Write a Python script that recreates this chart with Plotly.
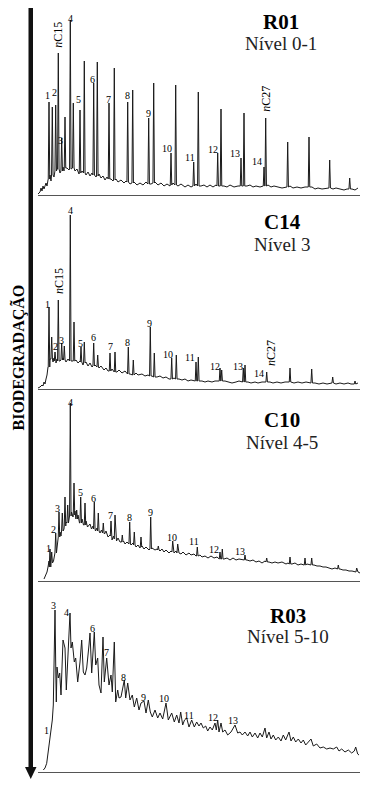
import plotly.graph_objects as go

W, H = 370, 787
OFF = 8               # default page margin of the html body
FW, FH = W - OFF, H - OFF

# ---------------- R01 (Nível 0-1) ----------------
R01_BASE_X = [38, 40, 41, 42, 43, 44, 46, 47, 48, 50, 51, 53, 54, 57, 60, 63, 64, 67, 69, 72, 75, 77, 79, 82, 86, 88, 90,
              92, 96, 99, 101, 103, 105, 107, 111, 113, 116, 118, 121, 124, 126, 130, 134, 137, 140, 143, 146, 151, 155,
              158, 161, 164, 167, 170, 173, 178, 181, 185, 188, 191, 196, 201, 204, 207, 210, 213, 216, 224, 227, 230,
              234, 238, 247, 250, 253, 256, 260, 268, 271, 274, 278, 282, 290, 293, 297, 301, 305, 312, 315, 318, 322,
              326, 333, 336, 340, 344, 347, 352, 355, 358]
R01_BASE_Y = [1, 3, 7, 4, 9, 6, 12, 9, 15, 20, 14, 24, 18, 26, 22, 28, 24, 27, 25, 27, 24, 26, 21, 24, 20, 23, 19,
              22, 18, 21, 17, 19, 15, 18, 16, 14, 16, 13, 15, 12, 14, 11, 13, 10, 12, 10, 13, 11, 13,
              10, 12, 9, 11, 9, 12, 9, 11, 8, 10, 8, 11, 9, 10, 8, 10, 8, 10, 9, 8, 10,
              8, 9, 9, 10, 8, 9, 8, 10, 8, 9, 8, 7, 9, 7, 8, 7, 8, 8, 6, 7, 6,
              7, 6, 7, 6, 5, 6, 6, 5, 7]
R01_PEAK_X = [49.0, 52.3, 55.7, 58.3, 61.7, 65.0, 70.3, 73.3, 80.0, 84.3, 93.7, 97.3, 109.0, 114.3, 127.7, 132.7,
              148.7, 153.7, 171.0, 175.7, 193.7, 198.3, 217.7, 221.0, 241.0, 244.0, 264.0, 265.7, 287.7, 309.0,
              329.7, 349.7]
R01_PEAK_TOP = [93, 88, 90, 142, 57, 78, 175, 92, 85, 134, 112, 133, 92, 127, 93, 105,
                77, 112, 42, 110, 33, 103, 42, 86, 37, 82, 28, 77, 53, 58,
                35, 17]
R01_PEAK_BASE = [16, 20, 24, 26, 24, 27, 26, 27, 22, 22, 20, 19, 16, 15, 13, 12,
                 11, 12, 10, 10, 9, 9, 9, 9, 9, 9, 9, 9, 8, 8,
                 7, 6]
R01_LABELS = ["1", "2", "<i>n</i>C15", "3", "4", "5", "6", "7", "8", "9", "10", "11", "12", "13", "14", "<i>n</i>C27"]
R01_LABEL_X = [47.7, 54.0, 57.7, 60.7, 70.7, 78.7, 92.0, 108.3, 127.3, 148.3, 166.7, 190.0, 213.3, 235.0, 256.7, 265.7]
R01_LABEL_Y = [100, 103, 160, 55, 177, 96, 116, 96, 100, 82, 47, 38, 46, 42, 34, 96]

# ---------------- C14 (Nível 3) ----------------
C14_BASE_X = [38, 40, 42, 43, 44, 45, 46, 47, 48, 50, 53, 54, 56, 57, 60, 63, 66, 68, 72, 76, 78, 80, 83, 86, 88, 90,
              92, 95, 99, 101, 104, 106, 108, 112, 117, 119, 122, 125, 130, 136, 138, 142, 145, 148, 152, 157, 160,
              163, 166, 169, 174, 179, 182, 185, 188, 191, 194, 202, 205, 208, 212, 215, 225, 228, 232, 236, 239, 248,
              251, 255, 258, 262, 270, 273, 277, 281, 285, 294, 298, 302, 306, 315, 319, 323, 327, 336, 340, 344, 348,
              351, 358]
C14_BASE_Y = [1, 2, 4, 3, 7, 5, 10, 14, 22, 30, 27, 31, 26, 30, 28, 31, 27, 30, 28, 29, 26, 28, 24, 27, 23, 26,
              22, 24, 21, 23, 19, 21, 18, 20, 17, 19, 16, 18, 15, 16, 14, 15, 13, 14, 13, 12, 13,
              11, 12, 10, 11, 10, 9, 10, 8, 9, 8, 8, 7, 8, 7, 8, 8, 7, 6, 7, 8, 7,
              6, 7, 6, 7, 7, 6, 7, 6, 7, 6, 7, 6, 7, 6, 5, 6, 5, 5, 6, 5, 6,
              5, 6]
C14_PEAK_X = [49.0, 51.7, 55.0, 58.3, 61.7, 64.3, 70.3, 74.0, 81.0, 84.3, 93.7, 97.7, 110.0, 115.0, 128.3, 133.3,
              150.3, 154.3, 171.7, 176.3, 196.0, 198.3, 220.0, 221.7, 243.3, 245.0, 266.7, 290.0, 311.7, 332.7, 355.0]
C14_PEAK_TOP = [82, 52, 37, 89, 46, 43, 174, 67, 42, 47, 46, 34, 36, 37, 42, 29,
                62, 36, 31, 34, 27, 32, 21, 19, 21, 24, 17, 21, 20, 12, 8]
C14_PEAK_BASE = [22, 30, 28, 28, 29, 29, 28, 28, 27, 26, 23, 22, 18, 17, 15, 14,
                 13, 12, 10, 10, 8, 8, 8, 8, 7, 7, 7, 7, 6, 6, 5]
C14_LABELS = ["1", "2", "<i>n</i>C15", "3", "4", "5", "6", "7", "8", "9", "10", "11", "12", "13", "14", "<i>n</i>C27"]
C14_LABEL_X = [47.7, 55.0, 59.0, 61.7, 70.7, 80.0, 93.3, 110.0, 127.7, 149.3, 168.3, 190.0, 215.0, 238.3, 259.0, 271.0]
C14_LABEL_Y = [85, 43, 108, 49, 179, 46, 52, 43, 47, 66, 35, 32, 23, 23, 16, 36]

# ---------------- C10 (Nível 4-5) ----------------
C10_BASE_X = [44, 45, 46, 47, 48, 49, 51, 52.5, 53.5, 55, 56.5, 58, 60, 61, 63, 64, 66, 67, 69, 71.5, 73, 75, 76, 78,
              79.5, 82, 83.5, 86, 87.5, 90, 91.5, 93, 95.5, 97, 100, 101.5, 104.5, 106, 108, 110, 112, 113.5, 116.5,
              118, 120, 123.5, 125, 127, 131, 133, 136, 138, 140, 142, 144, 146, 149, 152, 155, 157, 160, 162, 164,
              166, 169, 171, 174, 176, 179, 181, 183, 186, 189, 191, 194, 196, 200, 202, 205, 208, 211, 214, 217,
              224, 227, 230, 233, 236, 239, 242, 247, 250, 253, 256, 259, 262, 265, 269, 272, 275, 278, 282, 286,
              288, 292, 295, 298, 301, 304, 307, 310, 314, 317, 320, 323, 326, 329, 332, 335, 340, 343, 346, 349,
              352, 355, 358, 360]
C10_BASE_Y = [2, 4, 6, 9, 14, 20, 16, 22, 20, 30, 33, 38, 49, 45, 55, 52, 59, 57, 62, 69, 64, 70, 62, 66,
              58, 62, 56, 60, 54, 57, 52, 55, 50, 53, 48, 51, 47, 50, 44, 46, 41, 45, 40,
              43, 39, 40, 37, 39, 36, 38, 34, 36, 33, 35, 32, 34, 31, 33, 31, 32, 30, 32, 29,
              31, 28, 30, 28, 30, 28, 27, 29, 26, 28, 26, 27, 25, 26, 24, 25, 23, 25, 23, 24,
              22, 23, 21, 23, 21, 22, 21, 21, 20, 21, 19, 20, 18, 20, 19, 18, 19, 18, 19, 17,
              18, 17, 18, 16, 17, 16, 17, 16, 16, 15, 15, 14, 14, 13, 12, 13, 12, 11, 11, 10,
              10, 9, 9, 8]
C10_PEAK_X = [50.0, 51.7, 55.7, 59.0, 62.3, 65.0, 67.7, 70.3, 74.0, 76.7, 80.7, 85.0, 94.3, 98.3, 103.3, 111.0,
              115.0, 122.3, 129.7, 134.3, 141.0, 150.7, 158.3, 172.7, 177.7, 197.3, 220.0, 222.3, 245.0, 266.7,
              290.0, 305.0, 311.7, 338.3, 356.7]
C10_PEAK_TOP = [32, 29, 48, 69, 68, 84, 76, 178, 98, 71, 84, 78, 79, 68, 58, 60,
                66, 46, 59, 49, 44, 64, 35, 40, 37, 34, 29, 32, 26, 23,
                24, 23, 23, 16, 13]
C10_PEAK_BASE = [14, 18, 28, 44, 50, 55, 58, 65, 66, 62, 58, 56, 52, 50, 48, 45,
                 42, 39, 37, 36, 34, 32, 31, 29, 28, 25, 22, 22, 21, 19,
                 17, 16, 16, 12, 9]
C10_LABELS = ["1", "2", "3", "4", "5", "6", "7", "8", "9", "10", "11", "12", "13"]
C10_LABEL_X = [48.3, 53.3, 57.7, 70.0, 80.0, 93.7, 110.0, 129.0, 150.0, 171.7, 193.7, 214.3, 240.0]
C10_LABEL_Y = [33, 52, 73, 179, 89, 83, 66, 64, 69, 44, 40, 32, 30]

# ---------------- R03 (Nível 5-10) ----------------
R03_X = [43.3, 45, 46.7, 48.3, 50, 51, 52.3, 53.3, 54, 55, 55.8, 56.3, 57, 58.3, 59.7, 61, 63, 65, 66.3, 68.3, 70, 71,
         72.3, 74.3, 75.7, 77.7, 80, 81.7, 83.3, 85, 86.7, 89, 90, 91.7, 94.3, 95.7, 97.7, 99, 101, 103, 104.3, 106.7,
         109, 111, 112.3, 114.3, 115.7, 117.7, 119, 121, 124.3, 125.7, 127.7, 130, 132.3, 134.3, 136.7, 139, 141, 144,
         146, 148.3, 150.3, 152.3, 155, 157.7, 160, 162.7, 166, 168.3, 171.7, 174.3, 176.7, 179, 180.7, 182.7, 184.5,
         186.7, 189, 191.7, 194.3, 196.7, 199, 201, 203.3, 205.7, 207.7, 210, 212.3, 215, 216.3, 217.7, 219, 221,
         222.7, 225, 227.7, 231, 233, 235, 237.7, 240, 242.3, 245, 247.7, 250, 252.3, 255, 257.7, 260, 262.3, 265,
         266.7, 269, 271, 273.3, 275.7, 278.3, 281, 283.3, 285.7, 289, 291, 293.3, 295.7, 298.3, 301, 303.3, 305.7,
         308.3, 311, 313.3, 316.7, 320, 323.3, 326.7, 330, 333.3, 336.7, 339, 341.7, 345, 348.3, 351.7, 354.3, 355.7,
         357.7, 359]
R03_Y = [2, 4, 8.7, 20.3, 33.7, 43.7, 52, 67, 110, 162, 100, 70, 105, 94, 99, 77, 132, 124, 82, 119, 159, 124,
         130, 110, 114, 90, 110, 132, 100, 97, 104, 127, 139, 99, 140, 107, 114, 87, 79, 135, 90, 114,
         87, 97, 80, 130, 70, 82, 74, 75, 92, 74, 89, 72, 77, 65, 74, 62, 69, 71,
         59, 72, 60, 55, 62, 54, 59, 53, 69, 52, 59, 50, 57, 49, 60, 47, 52,
         54, 45, 52, 45, 50, 46, 49, 44, 46, 41, 45, 42, 49, 42, 52, 40, 49,
         40, 42, 37, 40, 43, 47, 39, 40, 37, 40, 36, 40, 35, 39, 34, 39, 35, 44,
         34, 40, 33, 37, 32, 35, 31, 37, 32, 40, 31, 35, 30, 33, 29, 32, 27,
         30, 33, 26, 28, 24, 25, 23, 24, 23, 25, 21, 23, 20, 22, 19, 21, 25,
         18, 17]
R03_LABELS = ["1", "3", "4", "6", "7", "8", "9", "10", "11", "12", "13"]
R03_LABEL_X = [46.7, 53.3, 66.7, 92.3, 106.7, 123.3, 143.3, 164.0, 189.0, 213.3, 233.3]
R03_LABEL_Y = [42, 167, 160, 144, 120, 95, 75, 74, 57, 55, 52]

SAMPLES = ["R01", "C14", "C10", "R03"]
LEVELS = ["Nível 0-1", "Nível 3", "Nível 4-5", "Nível 5-10"]


def build_trace(bx, by, px_, pt, pb, w=0.75):
    pts = []
    for x, y in zip(bx, by):
        if all(abs(x - p) > w + 0.15 for p in px_):
            pts.append((x, y))
    for x, t, b in zip(px_, pt, pb):
        pts += [(x - w, b), (x, t), (x + w, b)]
    pts.sort(key=lambda p: p[0])
    return [p[0] for p in pts], [p[1] for p in pts]


traces = [
    build_trace(R01_BASE_X, R01_BASE_Y, R01_PEAK_X, R01_PEAK_TOP, R01_PEAK_BASE),
    build_trace(C14_BASE_X, C14_BASE_Y, C14_PEAK_X, C14_PEAK_TOP, C14_PEAK_BASE),
    build_trace(C10_BASE_X, C10_BASE_Y, C10_PEAK_X, C10_PEAK_TOP, C10_PEAK_BASE),
    (R03_X, R03_Y),
]
labels = [
    (R01_LABELS, R01_LABEL_X, R01_LABEL_Y),
    (C14_LABELS, C14_LABEL_X, C14_LABEL_Y),
    (C10_LABELS, C10_LABEL_X, C10_LABEL_Y),
    (R03_LABELS, R03_LABEL_X, R03_LABEL_Y),
]

# layout geometry (page pixels)
AXIS_PX = [195, 389, 581, 772]
TOP_PX = [8, 200, 395, 595]
TITLE_X = [281, 282, 281.7, 287.5]
TITLE_H = [173, 167, 161, 156]
LEVEL_H = [152, 145, 139, 136]
X0, X1 = 38, 360


def pxx(x):
    return min(1.0, max(0.0, (x - OFF) / FW))


def pxy(y):
    return min(1.0, max(0.0, 1 - (y - OFF) / FH))


fig = go.Figure()
annotations = []
LINE = "#1a1a1a"
SERIF = "Liberation Serif"

for i in range(4):
    k = "" if i == 0 else str(i + 1)
    xs, ys = traces[i]
    fig.add_trace(go.Scatter(x=xs, y=ys, mode="lines", xaxis="x" + k, yaxis="y" + k,
                             line=dict(color=LINE, width=1), hoverinfo="skip", showlegend=False))
    yb, yt = AXIS_PX[i], TOP_PX[i]
    fig.layout["xaxis" + k] = dict(domain=[pxx(X0), pxx(X1)], range=[X0, X1], anchor="y" + k,
                                   showline=True, linecolor="#555555", linewidth=1, showgrid=False,
                                   zeroline=False, showticklabels=False, ticks="", fixedrange=True)
    fig.layout["yaxis" + k] = dict(domain=[pxy(yb), pxy(yt)], range=[0, yb - yt], anchor="x" + k,
                                   visible=False, fixedrange=True)
    txts, lx, ly = labels[i]
    for t, x, y in zip(txts, lx, ly):
        rot = "C" in t
        annotations.append(dict(x=x, y=y, xref="x" + k, yref="y" + k, text=t, showarrow=False,
                                textangle=-90 if rot else 0,
                                font=dict(family=SERIF, size=12 if rot else 10, color="black"),
                                xanchor="center", yanchor="middle"))
    annotations.append(dict(x=TITLE_X[i], y=TITLE_H[i], xref="x" + k, yref="y" + k,
                            text="<b>" + SAMPLES[i] + "</b>", showarrow=False,
                            font=dict(family=SERIF, size=21, color="black"),
                            xanchor="center", yanchor="middle"))
    annotations.append(dict(x=TITLE_X[i], y=LEVEL_H[i], xref="x" + k, yref="y" + k,
                            text=LEVELS[i], showarrow=False,
                            font=dict(family=SERIF, size=19, color="#222222"),
                            xanchor="center", yanchor="middle"))

annotations.append(dict(x=pxx(17.5), y=pxy(358), xref="paper", yref="paper",
                        text="<b>BIODEGRADAÇÃO</b>", showarrow=False, textangle=-90,
                        font=dict(family=SERIF, size=16, color="black"),
                        xanchor="center", yanchor="middle"))

shapes = [
    dict(type="rect", xref="paper", yref="paper", x0=pxx(28.5), x1=pxx(33), y0=pxy(8), y1=pxy(770),
         fillcolor="#111111", line=dict(width=0)),
    dict(type="path", xref="paper", yref="paper",
         path=f"M {pxx(25)} {pxy(767)} L {pxx(36.5)} {pxy(767)} L {pxx(30.75)} {pxy(779)} Z",
         fillcolor="#111111", line=dict(width=0)),
]

fig.update_layout(width=FW, height=FH, margin=dict(l=0, r=0, t=0, b=0), autosize=False,
                  paper_bgcolor="white", plot_bgcolor="white",
                  annotations=annotations, shapes=shapes, showlegend=False)

fig.write_html("out.html", config={"displayModeBar": False})
